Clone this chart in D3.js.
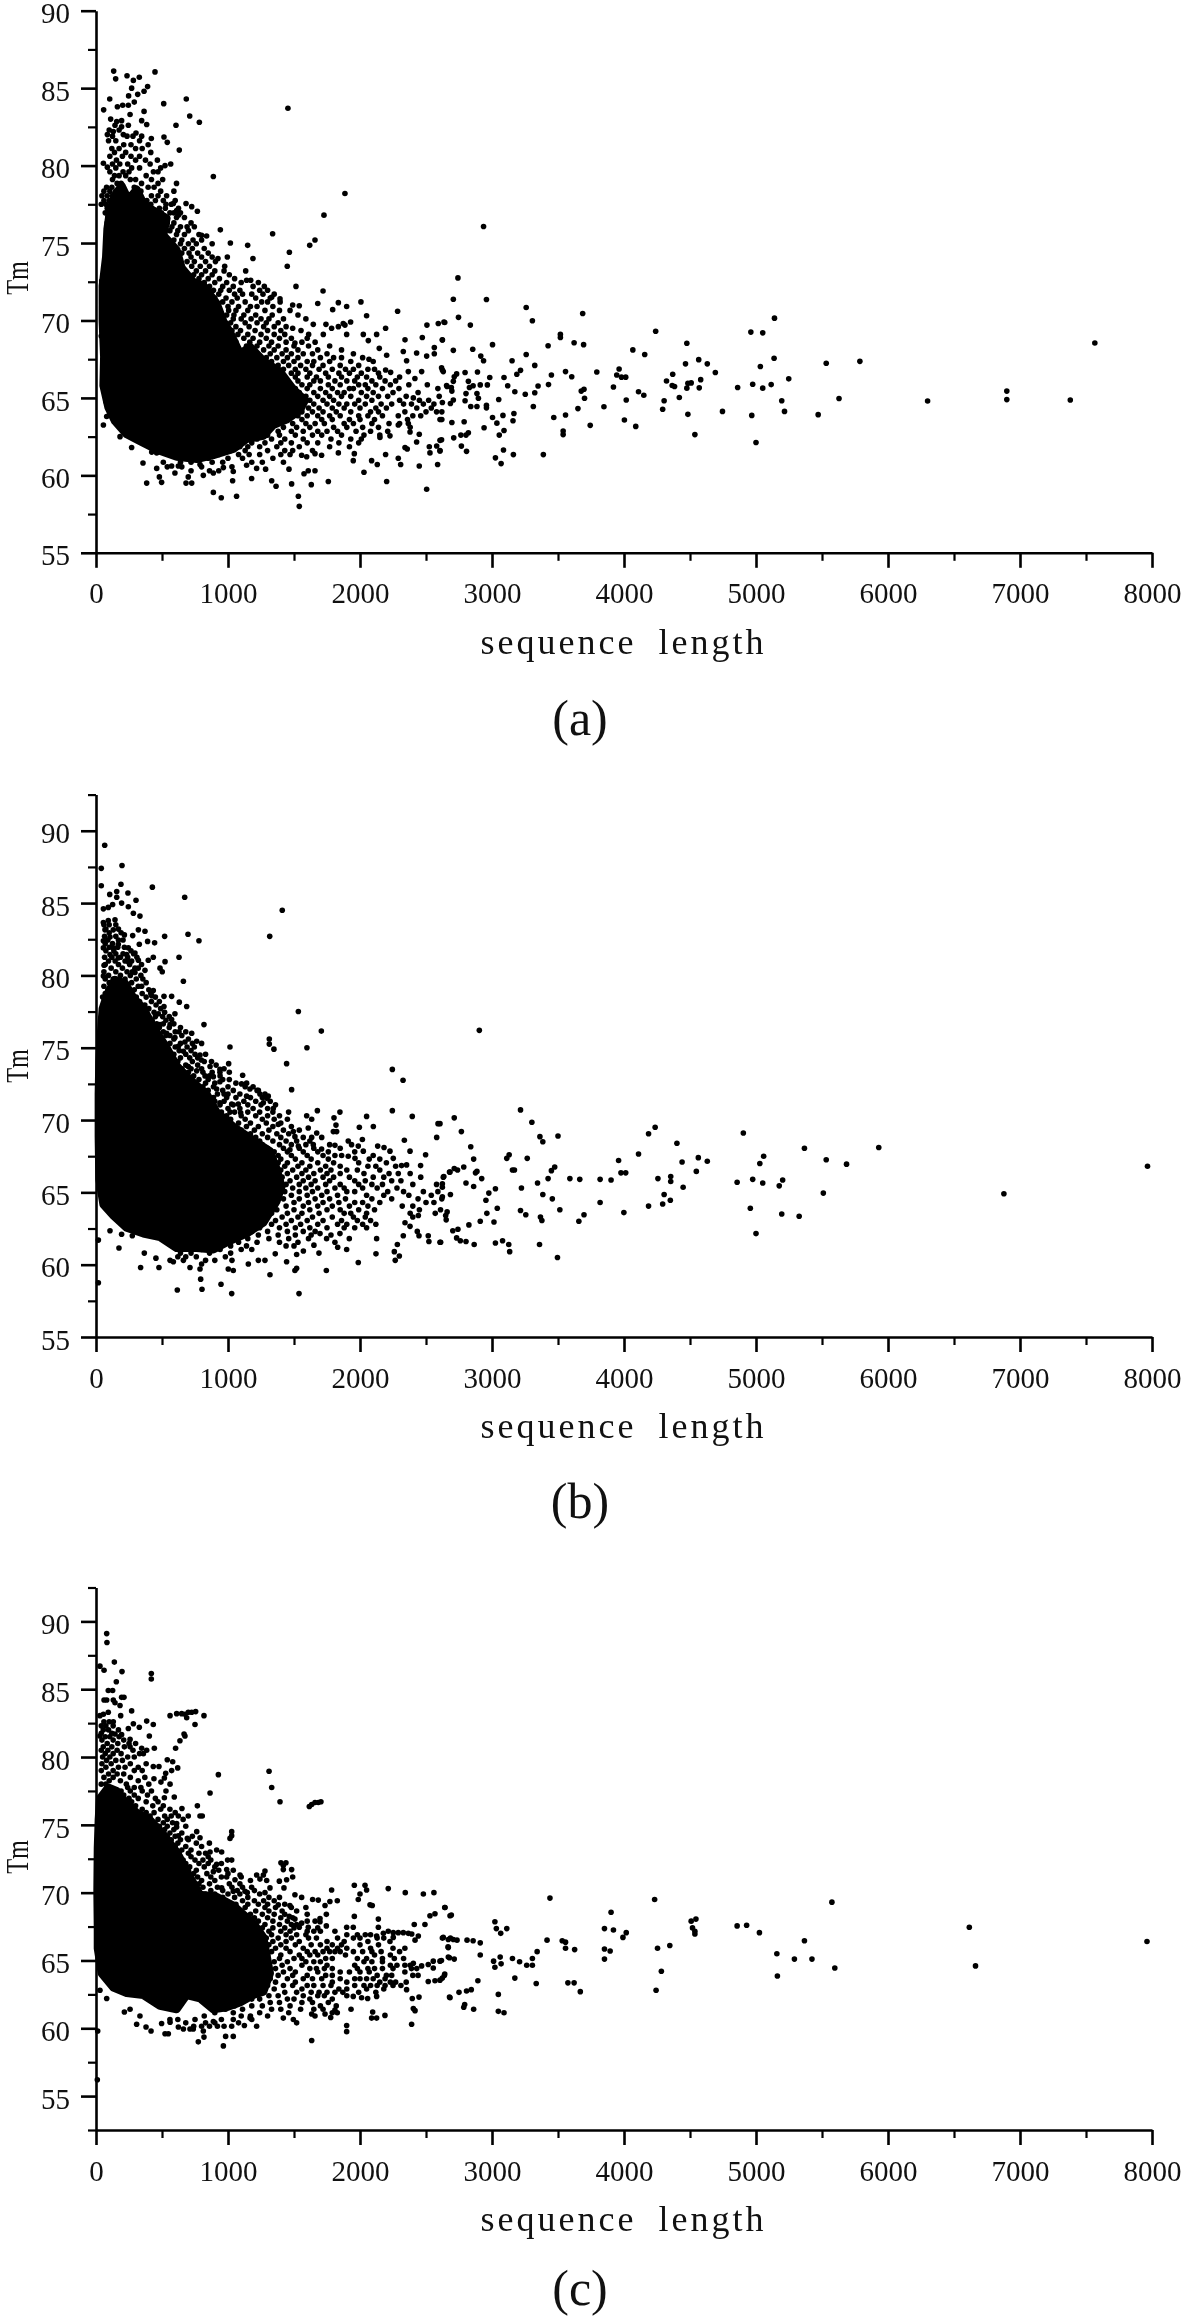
<!DOCTYPE html>
<html><head><meta charset="utf-8">
<script src="https://cdn.jsdelivr.net/npm/d3@7/dist/d3.min.js"></script>
<style>html,body{margin:0;padding:0;background:#fff}svg{display:block;filter:blur(0.4px)}text{font-family:"Liberation Serif",serif;fill:#111}</style>
</head><body><div id="c"></div>
<script>
const lengthMajor=[0,1000,2000,3000,4000,5000,6000,7000,8000];
const lengthMinor=[500,1500,2500,3500,4500,5500,6500,7500];
const tmMajor=[55,60,65,70,75,80,85,90];
const tmMinorA=[57.5,62.5,67.5,72.5,77.5,82.5,87.5];
const tmMinorB=[57.5,62.5,67.5,72.5,77.5,82.5,87.5,92.5];
const tmMinorC=[52.5,57.5,62.5,67.5,72.5,77.5,82.5,87.5,92.5];

// solid, fully overplotted core of each cloud: [length, Tm] outline
const coreA=[[86,75.9],[106,77.1],[144,78.1],[194,78.7],[245,77.8],[308,78.45],[359,77.55],[434,77.1],[535,76.6],[510,75.5],[611,74.55],[649,73.4],[737,72.5],[813,72.25],[914,71.1],[965,69.95],[1015,69.25],[1091,67.85],[1167,68.3],[1268,67.4],[1394,66.7],[1495,65.55],[1583,64.85],[1545,64.2],[1444,63.6],[1343,63.25],[1268,62.55],[1141,62.35],[1040,61.7],[889,61.3],[763,61.05],[611,61.2],[460,61.65],[333,62.2],[232,62.65],[144,63.5],[93,64.4],[56,65.8],[61,67.65],[50,69.95],[50,72.25],[76,74.1]];
const coreB=[[35,75.75],[50,77.7],[86,78.7],[144,79.7],[220,79.45],[283,78.45],[359,77.7],[447,76.25],[535,75],[611,73.75],[712,72.8],[838,71.8],[914,70.55],[1040,69.55],[1192,68.6],[1318,67.85],[1369,66.6],[1406,65.4],[1369,64.4],[1268,62.9],[1141,62.15],[1015,61.65],[889,61.05],[763,61.15],[611,61.15],[485,61.9],[359,62.15],[232,62.55],[131,63.4],[56,64.15],[25,65.9],[20,68.85],[20,71.8],[25,74]];
const coreC=[[20,75.35],[30,76.95],[93,77.75],[157,77.5],[220,76.7],[308,75.9],[409,75.35],[510,74.3],[611,73],[712,71.15],[788,69.85],[914,69.7],[1040,69.05],[1192,67.75],[1268,66.7],[1293,65.35],[1318,64.05],[1268,62.7],[1192,62.45],[1091,61.9],[990,61.55],[889,61.4],[788,62.2],[687,62.45],[611,61.4],[485,61.65],[359,62.45],[232,62.6],[131,63],[43,64.05],[13,65.9],[13,67.45],[10,70.1],[13,73.25]];

// individually readable points: [length, Tm]
const pointsA=[[134,86.1],[149,85.6],[235,85.8],[283,85.5],[328,85.7],[447,86.05],[270,85],[391,85.1],[364,84.8],[316,84.6],[247,84.5],[104,84.3],[684,84.3],[513,84],[1454,83.7],[58,83.6],[162,83.8],[202,83.9],[245,83.9],[290,84.1],[364,83.5],[710,83.2],[783,82.8],[606,82.6],[111,83],[157,82.85],[194,82.9],[258,83.3],[346,82.9],[384,82.65],[144,82.6],[194,82.5],[245,82.6],[131,82.2],[86,82],[207,82],[303,82.1],[346,81.9],[419,81.75],[515,81.85],[540,81.5],[631,81],[56,80.15],[86,79.9],[566,80.1],[523,80],[889,79.3],[1886,78.2],[1727,76.8],[1338,75.6],[1659,75.2],[1619,74.85],[1465,74.4],[1449,73.5],[1515,72.2],[942,75.85],[1018,75],[1149,74.85],[1189,74],[995,74.1],[924,74],[1134,73.2],[1141,72.6],[1172,72.6],[682,77.55],[725,77.35],[768,77.05],[586,77.55],[611,77.1],[624,76.8],[838,75.45],[800,75.5],[43,72.55],[40,69],[56,67.2],
[1720,71.9],[1394,71.4],[1331,71.5],[1680,71.1],[1836,71.15],[2007,71.2],[1490,71],[1540,70.95],[1899,70.9],[1793,70.7],[2285,70.6],[2050,70.3],[1873,69.8],[1929,69.9],[2507,69.7],[2593,69.8],[2636,69.9],[1646,69.75],[1742,69.75],[1785,69.5],[1836,69.6],[1886,69.7],[1490,69.5],[1553,69.35],[2194,69.5],[2126,69.1],[2472,68.9],[2624,68.75],[2341,68.75],[1611,69.1],[1722,69.1],[1899,69.1],[2025,69.1],[2063,68.7],[1507,68.55],[2328,68],[2429,67.9],[2563,67.85],[2563,68.25],[2505,67.7],[2202,67.75],[2146,68.2],[2353,67.4],[2618,66.95],[2467,66.7],[2366,66.7],[2416,66.25],[2194,66.8],[2232,66.65],[2068,67.5],[2631,66.7],[2656,65.8],
[2936,76.07],[2742,72.75],[2707,71.37],[2958,71.35],[3259,70.84],[3306,69.98],[3687,70.45],[2746,70.2],[2642,69.87],[2836,69.7],[4240,69.3],[4961,69.25],[5051,69.2],[5140,70.15],[3518,69.1],[3518,68.9],[2624,68.74],[3622,68.56],[3694,68.44],[3425,68.37],[3004,68.44],[4476,68.53],[7567,68.55],[2707,68.07],[2854,68.14],[4067,68.1],[4157,67.8],[3259,67.8],[2915,67.7],[2936,67.4],[3152,67.4],[4566,67.47],[5137,67.56],[5532,67.24],[5787,67.36],[4631,67.2],[4466,67.2],[3324,67.1],[5033,67.03],[3963,66.87],[3216,66.78],[2624,66.8],[3557,66.7],[3794,66.67],[4692,66.64],[2732,66.55],[2796,66.64],[2890,66.67],[3188,66.53],[3450,66.48],[3945,66.48],[3981,66.34],[4013,66.34],[3604,66.37],[3091,66.32],[2983,66.32],[2714,66.37],[4369,66.53],[4581,66.18],[5248,66.23],[4322,66.09],[2821,66.07],[2707,66.07],[4484,65.95],[4509,65.97],[4975,65.88],[5115,65.86],[4365,65.8],[4383,65.74],[4570,65.65],[4476,65.63],[5051,65.63],[4861,65.67],[3428,65.86],[3349,65.77],[3119,65.79],[3920,65.7],[2965,65.84],[2911,65.84],[2857,65.79],[2829,65.67],[2660,65.74],[2692,65.67],[3697,65.56],[3676,65.44],[4110,65.4],[4150,65.17],[3173,65.4],[3324,65.33],[3252,65.24],[2886,65.28],[2803,65.28],[2696,65.44],[5629,64.96],[3701,64.98],[2897,64.98],[3051,64.9],[4419,65.03],[4017,64.87],[4304,64.82],[5195,64.82],[6300,64.8],[6900,65.44],[6900,64.89],[7381,64.87],[2796,64.82],[2707,64.87],[2685,64.64],[2624,64.7],[2839,64.45],[2886,64.45],[2958,64.52],[2958,64.36],[3313,64.45],[3848,64.43],[3651,64.31],[4293,64.27],[4746,64.13],[5216,64.13],[3166,63.99],[3083,63.87],[3004,63.74],[3557,63.9],[3468,63.74],[4484,63.94],[4968,63.87],[5471,63.92],[3159,63.53],[4003,63.57],[3037,63.37],[2696,63.41],[2789,63.46],[2606,63.6],[3744,63.23],[4089,63.16],[2940,63.07],[3091,62.9],[3539,62.86],[3539,62.63],[2821,62.75],[2803,62.6],[2764,62.6],[3055,62.6],[4537,62.63],[2710,62.42],[2606,62.26],[5000,62.12],[2768,61.89],[2807,61.55],[3087,61.64],[3162,61.34],[3389,61.34],[3026,61.13],[3069,60.76],[2606,61.57],
[56,63.25],[76,64.75],[81,63.8],[101,63.9],[182,62.5],[270,61.8],[384,62],[422,61.5],[460,61.45],[356,60.8],[384,59.5],[460,60.45],[480,59.9],[497,59.55],[510,60.85],[573,60.6],[598,60.15],[624,60.6],[682,59.5],[725,59.5],[699,59.9],[788,60.7],[813,60],[889,60.15],[889,58.9],[949,58.55],[1065,58.65],[1035,59.65],[965,60.5],[1040,60.25],[1141,60.65],[1179,59.8],[1217,60.45],[1285,60.4],[1331,59.65],[1364,59.3],[1482,59.45],[1533,58.65],[1540,58],[1462,60.4],[1576,60.1],[1608,60.3],[1659,60.3],[1631,59.4],[1760,59.6],[2030,60.2],[2202,59.6],[2449,60.6],[2505,59.1],[2588,60.7],[2308,60.7],[2290,61.1],[2131,60.7],[2088,60.95],[2194,61.35],[1949,60.95],[1957,61.4],[1836,61.45],[1709,61.3],[1659,61.4],[1596,61.2],[1558,61.3],[2341,61.8],[2358,61.7],[2530,61.45],[2525,61.85],[2581,61.9],[2606,61.6],[2618,62.3],[2429,62.15],[2449,62.65],[2151,62.45],[2227,62.55],[2290,63.25],[2379,62.8],[2366,63.35],[2404,65]];
// denser fringe of each cloud, estimated row by row: [Tm, lengths]
const rowsA=[[82.3,[100,175]],[81.9,[125,235,280]],[81.6,[95,150,330]],[81.35,[210,265,395]],[81.1,[120,175,300,350]],[80.85,[140,225,415]],[80.6,[105,200,265,330]],[80.35,[155,300,375,465]],[80.1,[125,180,240,410]],[79.85,[150,270,330,490]],[79.6,[105,205,250,435,470]],[79.35,[140,175,225,380]],[79.1,[125,260,300,420,505]],[78.85,[160,190,345,470,610]],[78.6,[80,120,290,395,440]],[78.35,[60,105,150,340,490,590]],[78.05,[45,85,125,420,470,535]],[77.75,[60,100,385,450,510,600]],[77.5,[40,75,415,530,570]],[77.25,[85,480,525,625]],[76.95,[70,495,560,640,590]],[76.65,[90,530,610,670]],[76.3,[85,540,590,720]],[76.05,[575,640,690,745]],[75.8,[560,620,700]],[75.55,[610,670,780]],[75.2,[590,650,735,800]],[74.95,[640,700,760,880]],[74.65,[670,730,820]],[74.35,[650,705,770,850]],[74.1,[720,800,880]],[73.8,[690,745,830,905]],[73.5,[725,790,860,975]],[73.2,[760,830,900,970]],[72.95,[740,800,880,1010]],[72.7,[780,850,935,1050]],[72.45,[820,900,990,1100,1230]],[72.2,[860,960,1040,1190,1275]],[71.95,[890,945,1010,1090,1240,1300]],[71.7,[930,1050,1110,1180,1265,1350]],[71.45,[900,985,1070,1210,1320]],[71.2,[960,1030,1130,1255,1300,1395]],[70.9,[1000,1080,1170,1220,1340]],[70.65,[1005,1060,1150,1280,1390,1470]],[70.35,[990,1045,1120,1210,1335,1530]],[70.1,[1040,1100,1175,1250,1310,1420,1590]],[69.85,[1020,1130,1220,1290,1380]],[69.6,[1060,1160,1270,1350,1440]],[69.35,[1030,1095,1205,1300,1400]],[69.1,[1075,1150,1250,1350,1430]],[68.85,[1120,1190,1290,1390,1480,1600]],[68.6,[1060,1165,1240,1330,1440,1560,1660]],[68.35,[1140,1220,1310,1380,1500,1610,1770]],[68.1,[1190,1270,1350,1440,1530,1680,1860]],[67.85,[1220,1320,1410,1480,1570,1640,1750,1950]],[67.6,[1290,1370,1450,1530,1700,1800,1860,2020]],[67.35,[1330,1420,1500,1600,1650,1770,1930,2100]],[67.1,[1380,1460,1550,1640,1720,1850,1990]],[66.85,[1420,1510,1590,1690,1790,1890,1950,2060,2110]],[66.6,[1480,1530,1620,1740,1840,1920,2010,2140]],[66.35,[1510,1600,1670,1760,1860,1980,2050,2150,2300]],[66.1,[1530,1650,1700,1810,1900,1960,2090,2190,2270]],[65.85,[1560,1620,1760,1850,1990,2040,2120,2230,2370,2510]],[65.6,[1510,1600,1700,1790,1920,1950,2060,2170,2295,2590]],[65.35,[1540,1650,1740,1830,1880,2010,2100,2250,2440]],[65.1,[1590,1680,1770,1860,1930,2050,2140,2210,2350,2600]],[64.85,[1530,1620,1720,1800,1990,2090,2300,2450,2520]],[64.6,[1570,1650,1750,1840,1900,1960,2040,2160,2240,2330,2390,2480,2560]],[64.35,[1510,1610,1690,1790,1880,2000,2120,2200,2430,2540]],[64.1,[1480,1560,1640,1720,1820,1930,2080,2140,2340,2500,2580,2620]],[63.85,[1530,1600,1680,1770,1850,1990,2060,2170,2290,2400,2460]],[63.6,[1450,1560,1710,1790,1920,2000,2110,2360,2620]],[63.35,[1490,1590,1660,1730,1880,1950,2090,2220,2300]],[63.1,[1420,1520,1620,1800,1900,2020,2140,2380]],[62.85,[1380,1480,1570,1680,1750,1830,1970,2080,2210]],[62.6,[1300,1390,1510,1640,1710,1860,2030,2150]],[62.35,[1220,1330,1430,1570,1780,1930,2010]],[62.1,[1180,1280,1400,1480,1600,1680,1840,1990]],[61.85,[1090,1150,1240,1370,1540,1770,1920]],[61.6,[1020,1130,1300,1430,1490,1640]],[61.35,[930,1080,1160,1240,1400,1470]],[61.1,[850,1000,1110,1340]],[60.85,[640,720,880,960,1180,1260,1420]],[60.55,[540,650,800,1030]],[60.3,[720,860,930]]];

const pointsB=[[66,89],[40,87.4],[197,87.6],[40,86.2],[189,86.3],[427,86.1],[157,85.8],[242,85.7],[104,85.6],[303,85.2],[672,85.4],[1411,84.5],[1316,82.7],[697,82.85],[780,82.4],[520,82.7],[157,85.4],[194,85],[126,84.9],[245,84.75],[56,84.6],[93,84.7],[283,84.3],[333,84.1],[56,83.65],[93,83.8],[144,83.85],[68,83.15],[131,83.15],[215,82.8],[278,82.75],[321,83.15],[371,83.05],[391,82.35],[328,82.15],[444,82.25],[56,82.4],[106,82.65],[56,81.9],[131,81.9],[169,82.15],[245,81.9],[295,81.55],[232,81.45],[396,81.05],[434,81.25],[321,81.05],[629,81.25],[523,80.95],[371,80.35],[485,80.5],[502,80.25],[61,80.7],[106,81.45],[169,81.2],[245,80.95],[295,80.2],[56,79.95],[662,79.6],[346,79.25],[434,78.95],[422,78.6],[515,78.55],[573,78.55],[631,78.15],[687,77.85],[515,77.85],[598,77.35],[573,76.95],[472,77.35],[818,76.6],[561,76.6],[485,76.6],[1533,77.5],[1707,76.15],[1313,75.6],[1313,75.25],[1348,74.9],[1598,75],[1015,75.05],[1444,73.9],[1005,73.9],[1482,72.1],[725,76],[629,76.1],[535,76],[598,75.7],[763,75.45],[674,75.4],[624,75.1],[788,74.5],[662,74.75],[798,74.15],[699,73.7],[864,73.7],[939,73.5],[939,73.3],[763,73.4],[826,73.05],[1111,73.1],[889,73],[1103,72.5],[1141,72.55],[1166,72.15],[1230,72.05],[1242,71.8],[1141,71.65],[970,71.8],[1305,71.65],[1293,71.5],[1268,71.2],[1343,70.8],[939,72.65],[914,72.15],[838,72],[939,71.2],[1028,71.1],[1078,71.1],[1015,70.55],[1096,70.5],[1459,70.55],[1677,70.65],[1848,70.55],[1596,70.3],[1634,70.05],[1803,70.15],[2050,70.25],[2245,70.65],[2396,70.25],[2245,73.5],[2326,72.75],[2591,69.75],[2581,68.8],[1995,69.5],[2101,69.55],[1818,69.65],[1608,69.45],[1381,69.7],[1495,69.2],[1507,68.85],[1672,69.1],[1634,68.8],[1798,69.2],[1823,69.2],[2018,68.65],[2336,68.6],[2379,67.85],[1911,68.55],[1936,68.3],[1987,68.2],[2134,68.2],[2182,68.1],[2227,67.85],[2025,67.85],[2497,67.6],[2459,66.85],[2315,66.85],[2353,66.9],[2252,67.35],[1861,67.55],[1911,67.5],[1962,67.35],[1810,68.25],[1646,68.3],[1709,68],[1533,68.2],[1469,67.95],[2631,66.05],[2682,66.4],
[18,61.7],[18,58.75],[174,61.15],[194,62.1],[106,62.35],[275,62],[366,60.8],[338,59.8],[454,60.45],[477,59.8],[616,58.25],[586,60.2],[561,60.3],[662,60.3],[712,59.8],[788,59.7],[800,60.05],[793,59],[803,58.3],[947,58.65],[1028,58],[1040,59.6],[1002,59.7],[1154,60.05],[1230,60.3],[1280,60.3],[1318,59.3],[1358,60.75],[1444,60.2],[1507,59.6],[1520,59.75],[1538,58],[1520,60.7],[1571,60.95],[1689,60.8],[1651,61.35],[1745,59.6],[1987,60.15],[2121,60.75],[2126,61.8],[2260,60.9],[2267,60.3],[2298,60.6],[1899,61.05],[1831,61.2],[1810,61.55],[1919,61.8],[1848,62.15],[1747,61.8],[1697,62.15],[2283,61.4],[2328,62],[2447,62],[2517,62],[2611,61.55],[2522,61.6],[2341,62.9],[2379,62.65],[2434,62.3],[2442,63.4],
[2904,76.2],[3216,70.7],[2714,70.15],[3302,69.85],[2606,69.75],[2768,69.2],[3363,68.85],[3500,68.9],[3385,68.5],[4236,69.5],[4186,69.05],[4904,69.1],[4401,68.4],[2839,68.15],[5367,68.05],[5930,68.1],[4110,67.65],[3130,67.6],[3112,67.35],[3267,67.35],[2861,67.3],[3959,67.2],[4440,67.1],[4563,67.4],[4631,67.15],[5058,67.5],[5029,67],[5532,67.25],[5686,66.95],[7966,66.8],[3475,66.75],[3450,66.5],[3155,66.55],[3170,66.55],[2786,66.75],[2714,66.65],[2739,66.55],[2678,66.4],[2875,66.35],[2886,66.45],[3977,66.35],[4013,66.35],[4548,66.45],[2635,66.1],[2922,65.95],[3425,65.95],[3590,65.95],[3665,65.9],[3819,65.9],[3902,65.85],[4257,65.95],[4354,66.1],[4354,65.75],[4975,65.9],[5202,65.85],[5176,65.45],[5051,65.65],[4857,65.7],[3345,65.65],[2803,65.65],[2624,65.6],[2624,65.35],[2861,65.4],[3223,65.3],[3026,65.25],[4448,65.35],[2976,64.95],[5510,64.95],[6878,64.9],[3385,64.85],[4304,64.85],[2685,64.85],[2624,64.7],[2954,64.45],[3457,64.55],[4351,64.45],[3819,64.3],[4293,64.2],[4186,64.05],[3040,63.9],[3216,63.75],[3514,63.8],[3256,63.45],[2961,63.55],[3999,63.6],[3697,63.45],[4957,63.9],[5195,63.5],[5327,63.35],[2660,63.65],[2649,63.4],[3367,63.3],[3378,63.05],[3658,63],[2911,63],[3015,62.95],[2653,63.1],[2825,62.75],[2742,62.45],[2703,62.35],[5000,62.15],[2732,61.85],[2760,61.65],[2803,61.6],[2865,61.4],[2606,61.55],[3026,61.5],[3080,61.65],[3127,61.4],[3134,60.9],[3360,61.4],[3496,60.5]];
const rowsB=[[83.5,[60,100,150]],[83.2,[75,170]],[82.95,[100,190]],[82.7,[65,150]],[82.45,[90,205,170]],[82.2,[70,125]],[81.95,[100,165,215]],[81.7,[75,135,265]],[81.5,[150,205,285]],[81.25,[65,120,185,240,310]],[81,[95,145,220,270]],[80.75,[70,170,255,345]],[80.5,[115,200,295,320]],[80.25,[60,150,235,275]],[80,[95,185,260,340]],[79.75,[70,130,220,305,355]],[79.5,[100,270,380]],[79.25,[60,150,320]],[79,[90,240,290,400]],[78.75,[70,350,415]],[78.5,[50,305,380,450]],[78.2,[90,330,420,480]],[77.95,[65,370,455]],[77.7,[400,490]],[77.45,[370,440,520]],[77.15,[450,505,555]],[76.9,[425,530]],[76.65,[460,510,590]],[76.4,[480,555,640]],[76.1,[460,510,600,680]],[75.85,[530,560,650]],[75.6,[490,590,700]],[75.3,[560,640,730,800]],[75.05,[600,690,745]],[74.8,[540,630,720]],[74.55,[590,680,750,830]],[74.3,[640,710,770]],[74.05,[620,730,820,875]],[73.8,[680,770,910]],[73.55,[650,720,800,970]],[73.3,[700,810,880,1010]],[73.05,[740,860,940]],[72.8,[780,850,960,1010]],[72.55,[760,830,900,1060]],[72.3,[810,890,1000,1130,1190]],[72.05,[850,960,1040,1220]],[71.8,[840,920,1000,1090,1280]],[71.55,[890,990,1060,1170,1260]],[71.3,[900,970,1120,1210,1320]],[71.05,[940,1040,1150,1250,1360]],[70.8,[1000,1090,1190,1300]],[70.55,[950,1050,1150,1240,1340]],[70.3,[990,1100,1210,1300,1390]],[70.05,[1020,1130,1260,1350,1450]],[69.8,[1080,1170,1290,1400]],[69.55,[1050,1140,1230,1340,1480]],[69.3,[1100,1200,1310,1420,1540]],[69.05,[1170,1260,1370,1460]],[68.8,[1210,1300,1400,1570,1710]],[68.55,[1240,1340,1440,1520,1620]],[68.3,[1260,1390,1480,1590,1770]],[68.05,[1300,1420,1540,1650,1850]],[67.8,[1350,1450,1570,1680,1760,1960]],[67.55,[1380,1480,1600,1720,1810,2100]],[67.3,[1400,1510,1630,1760,2070,2150]],[67.05,[1380,1450,1560,1680,1800,1990,2200]],[66.8,[1430,1530,1620,1740,1850,2060,2120,2270]],[66.55,[1400,1490,1590,1700,1780,1900,1980,2150]],[66.3,[1450,1560,1650,1750,1850,2030,2220,2290,2380]],[66.05,[1410,1520,1610,1720,1800,1920,2100,2180,2460]],[65.8,[1470,1570,1660,1770,1960,2040,2240,2310]],[65.55,[1440,1540,1630,1740,1850,1990,2090,2170,2400,2580]],[65.3,[1490,1590,1680,1810,1880,2020,2130,2280]],[65.05,[1430,1540,1640,1750,1900,1960,2210,2330,2480,2590]],[64.8,[1480,1600,1710,1830,2050,2180,2370,2540]],[64.55,[1420,1540,1660,1770,1890,2090,2240,2440,2620]],[64.3,[1500,1610,1720,1840,1960,2020,2150,2500,2560]],[64.05,[1440,1570,1680,1790,1920,2060,2320,2400]],[63.8,[1370,1500,1620,1750,1850,1990,2110,2450,2610]],[63.55,[1330,1450,1560,1690,1880,1930,2050,2380,2570]],[63.3,[1290,1410,1530,1640,1790,1950,2040,2400]],[63.05,[1250,1360,1480,1600,1720,1860,1980,2080]],[62.8,[1200,1330,1440,1550,1680,1830,1900,2020,2120]],[62.55,[1240,1390,1510,1620,1750,1880,1960,2050]],[62.3,[1180,1300,1450,1570,1660]],[62.05,[1100,1230,1380,1510,1630,1780]],[61.8,[1050,1150,1310,1460,1610]],[61.55,[980,1080,1220,1390,1530]],[61.3,[900,1020,1140,1440,1500]],[61.05,[800,940,1100,1180]],[60.8,[640,720,860,1020]],[60.55,[620,680,760,980]],[60.3,[830,900,1030]]];

const pointsC=[[81,89.1],[83,88.45],[139,87],[30,86.7],[61,86.4],[197,86.3],[419,86.15],[419,85.75],[154,85.55],[93,84.9],[126,84.9],[61,84.2],[81,84.2],[131,84.2],[144,84],[194,84.4],[212,84.4],[182,83.8],[270,83.4],[561,83.05],[611,83.2],[649,83.2],[674,83.15],[699,83.3],[725,83.3],[755,83.35],[818,83.05],[687,82.9],[750,82.4],[674,81.55],[667,81.7],[636,81.2],[603,80.65],[434,82.4],[384,82.65],[328,82.2],[283,82.45],[245,82.1],[404,81.55],[442,80.65],[30,83.05],[56,83.15],[93,83.3],[131,82.6],[187,83.05],[30,81.55],[144,81.7],[194,81.65],[258,81.3],[258,80.75],[346,80.65],[384,80.5],[359,80.25],[434,79.3],[477,79.3],[540,79.8],[581,79.65],[619,79.2],[573,79],[528,78.8],[518,78.45],[439,78.4],[492,78.15],[561,78],[530,77.5],[927,78.7],[864,77.35],[518,77],[593,77.05],[1311,78.95],[1331,77.75],[1394,76.7],[1616,76.35],[1634,76.5],[1659,76.65],[1684,76.65],[1704,76.7],[768,76.4],[651,76.2],[699,75.65],[788,75.65],[805,75.65],[624,75.65],[611,75.1],[611,74.85],[763,74.5],[1028,74.5],[1028,74.2],[1015,74],[788,74.05],[624,74.2],[692,74],[859,73.65],[914,73.15],[952,73],[864,73],[997,72.4],[1028,72.4],[1401,72.2],[1439,72.2],[1419,72],[1419,71.7],[1482,71.7],[1490,71.15],[1444,70.95],[1389,70.85],[1424,70.35],[1280,71.6],[1268,71.3],[1217,71.3],[1242,71],[1293,70.9],[1318,70.35],[1280,70],[990,71.7],[914,72.1],[889,71.55],[990,71.15],[1091,71.3],[1053,70.95],[1040,70.1],[1179,70.4],[1129,70.1],[1146,70],[952,70.35],[1507,69.85],[1558,69.65],[1641,69.5],[1684,69.45],[1785,70.2],[1828,69.4],[1772,69.35],[1735,69.05],[1957,70.55],[2038,70.55],[2050,70.2],[2000,69.9],[1987,69.5],[2076,69.1],[2093,69.05],[2214,70.3],[2343,70],[2480,69.9],[2560,70],[2644,68.9],[2568,68.45],[2530,68.3],[2682,68.3],[2492,67.65],[2411,67.65],[1957,68.25],[2139,68.05],[1745,68.4],[1697,68.1],[1697,67.85],[1745,67.55],[1558,67.75],[1608,67.45],[1464,68.25],[1381,69.1],[1469,69.05],[1507,68.05],[1540,67.45],[1899,67.45],[1949,67.45],[2139,67.45],[2126,66.8],[2177,67],[2214,67.15],[2252,67.05],[2290,67.05],[2328,67.05],[2366,67],[2392,66.95],[2442,66.8],[2417,66.5],[2252,66.7],[2227,66.4],[2631,66.7],[2669,66.55],[2669,65.95],[2669,65.25],[2682,62.25],[2404,64.8],[2467,64.6],[2517,64.7],[2555,64.95],[2606,64.95],[2555,64.45],[2517,63.45],[2568,63.5],[2606,63.55],[2639,63.9],
[215,61.2],[258,61.4],[81,62.2],[30,62.8],[333,60.9],[308,60.3],[379,60.1],[417,59.8],[497,60.35],[523,59.6],[548,59.6],[561,60.45],[624,60.1],[662,59.95],[712,59.95],[737,59.95],[813,59.8],[775,59],[818,59.35],[889,60.5],[965,58.7],[982,59.4],[1040,59.4],[1028,60.15],[970,60.15],[1124,60.2],[1217,60.15],[1167,60.75],[13,59.8],[10,56.2],[1634,59.1],[1634,61.05],[1659,60.9],[1778,60.8],[1899,60.2],[1899,59.75],[1932,61.4],[1828,61.15],[1810,61.35],[1735,61.05],[2096,61.2],[2088,60.75],[2126,60.75],[2189,60.95],[2391,60.3],[2404,61.45],[2417,61.3],[2396,62.2],[2447,62.3],[2353,62.85],[2012,62.25],[2058,62.2],[2126,62.35],[1949,62.35],[1419,60.75],[1495,60.65],[1520,60.4],
[3439,69.6],[4232,69.5],[5575,69.3],[2642,68.9],[2692,68.35],[3902,68.55],[4545,68.05],[4509,67.9],[3022,67.85],[6616,67.45],[4857,67.55],[4929,67.6],[4519,67.4],[3033,67.35],[3112,67.35],[3852,67.35],[3920,67.25],[5026,67.05],[4537,67.15],[4537,66.95],[4017,67.05],[3992,66.7],[3066,67],[2624,66.65],[2685,66.65],[2707,66.55],[2735,66.5],[2811,66.5],[2857,66.45],[2911,66.3],[3417,66.5],[3532,66.45],[3557,66.35],[5367,66.45],[7962,66.4],[4347,66.1],[2667,66],[3557,65.9],[3626,65.8],[4254,65.9],[3852,65.85],[3895,65.7],[3342,65.65],[5158,65.5],[2911,65.4],[3062,65.25],[2678,65.2],[2714,65.1],[3155,65.15],[3852,65.1],[5291,65.1],[5424,65.1],[3306,65.15],[3209,64.9],[3012,64.95],[2617,65],[3263,64.65],[3306,64.65],[3069,64.75],[3022,64.5],[6663,64.6],[5597,64.45],[4283,64.2],[5162,63.85],[2642,64],[2624,63.7],[3173,63.7],[2893,63.5],[3335,63.3],[3575,63.35],[3622,63.35],[3669,62.7],[4243,62.8],[2843,62.85],[2807,62.75],[2750,62.65],[3048,62.5],[2678,62.3],[2793,61.75],[2786,61.55],[2861,61.4],[3048,61.25],[3091,61.15]];
const rowsC=[[82.6,[60,100]],[82.3,[75,130,40]],[82,[55,95,170]],[81.75,[40,120]],[81.5,[70,105,175]],[81.25,[45,130,210]],[81,[85,165,250,300]],[80.75,[55,120,215]],[80.5,[40,90,160,280]],[80.25,[70,130,190,330]],[80,[50,105,240,290]],[79.75,[80,150,200]],[79.5,[45,115,260,380]],[79.25,[75,170,220,320]],[79,[40,130,290,350]],[78.75,[95,160,210]],[78.5,[60,130,260,370]],[78.25,[100,185,320]],[78,[40,75,230,400]],[77.75,[240,290,340]],[77.5,[190,260,350,420]],[77.2,[210,290,390]],[76.95,[250,320,450]],[76.7,[270,380,470]],[76.4,[300,430,510]],[76.15,[350,490,560]],[75.9,[380,440,600]],[75.65,[410,520,570]],[75.4,[470,540,660]],[75.15,[440,510,580]],[74.9,[480,540,680]],[74.65,[520,590]],[74.4,[500,560,650]],[74.15,[540,600,730]],[73.9,[570,640,700]],[73.65,[550,620,760]],[73.4,[600,680,800]],[73.15,[590,650,720]],[72.9,[630,700,780,830]],[72.65,[640,720,850]],[72.4,[660,750,810,870]],[72.15,[680,780,850,950]],[71.9,[710,820,900]],[71.65,[700,760,930,1040]],[71.4,[740,840,1000]],[71.15,[770,870,950,1100]],[70.9,[730,800,900,1170]],[70.65,[780,860,1010,1090]],[70.4,[810,920,1030,1110]],[70.15,[870,960,1070,1200]],[69.9,[830,900,1000,1090,1240]],[69.65,[960,1050,1150,1310,1390]],[69.4,[1110,1200,1270,1350]],[69.15,[1060,1150,1230,1300,1430]],[68.9,[1130,1280,1360,1480,1590]],[68.65,[1100,1210,1310,1410,1520]],[68.4,[1170,1260,1350,1430,1600]],[68.15,[1200,1300,1400,1490]],[67.9,[1230,1340,1450,1600,1660]],[67.65,[1280,1390,1480,1520]],[67.4,[1260,1340,1430,1500,1680]],[67.15,[1310,1400,1470,1600,1650,1700,1810]],[66.9,[1330,1440,1520,1590,1900,1980,2040,2080]],[66.65,[1290,1380,1480,1610,1670,1830,1950,2000,2130,2180]],[66.4,[1340,1440,1540,1750,1880,2060]],[66.15,[1310,1400,1510,1630,1700,1790,1860,2000,2140]],[65.9,[1360,1440,1570,1750,1830,1900,2080,2250,2340]],[65.65,[1330,1470,1600,1660,1720,1770,1810,1850,1950,2020,2090,2160,2300]],[65.4,[1300,1400,1540,1620,1680,1890,2110,2230]],[65.15,[1390,1500,1560,1740,1790,1980,2050,2170,2260,2330]],[64.9,[1350,1450,1590,1650,1700,2030,2090,2170]],[64.65,[1410,1560,1750,1960,2230,2280,2340,2380]],[64.4,[1360,1470,1620,1670,1730,1790,1980,2060,2110,2170,2250,2390,2430]],[64.15,[1300,1420,1510,1680,1850,1920,2000,2070,2340]],[63.9,[1380,1490,1600,1740,1790,2130,2200,2240,2400,2440]],[63.65,[1320,1450,1570,1640,1710,1850,1960,2000,2050,2100,2190]],[63.4,[1360,1510,1900,1790,2150,2230,2270,2350]],[63.15,[1300,1420,1490,1600,1650,1720,1780,1960,2030,2080,2130,2190,2250,2310]],[62.9,[1350,1560,1840,1900,2050,2180]],[62.65,[1250,1430,1520,1630,1690,1750,1810,1870,1990,2120]],[62.4,[1310,1380,1570,1680,1730,1900]],[62.15,[1180,1240,1450,1500,1620,1790]],[61.9,[1100,1320,1390,1560,1640,1760]],[61.65,[1050,1180,1260,1470,1700,1820]],[61.4,[980,1110,1330,1400,1550,1650,1720]],[61.15,[900,1040,1240,1460,1790]],[60.9,[820,1100,1170,1300]],[60.65,[560,620,750,950,1040,1180]],[60.4,[680,830,900,1080]],[60.15,[740,800,860,920]]];

const panels=[
 {letter:"(a)",core:coreA,points:pointsA,rows:rowsA,domain:[55,90],range:[552.8,10.7],minor:tmMinorA,xAxisY:552.8,labelY:278,letterY:735},
 {letter:"(b)",core:coreB,points:pointsB,rows:rowsB,domain:[55,92.5],range:[1337,794.6],minor:tmMinorB,xAxisY:1337,labelY:1066,letterY:1518},
 {letter:"(c)",core:coreC,points:pointsC,rows:rowsC,domain:[52.5,92.5],range:[2130,1587.5],minor:tmMinorC,xAxisY:2130,labelY:1857,letterY:2305}
];
const svg=d3.select("#c").append("svg").attr("width",1181).attr("height",2322);
const x=d3.scaleLinear().domain([0,8000]).range([96,1152]);
const ink="#000";
function styleAxis(g,w){
  g.selectAll("path").attr("stroke",ink).attr("stroke-width",w).attr("fill","none");
  g.selectAll("line").attr("stroke",ink).attr("stroke-width",w);
}
panels.forEach(p=>{
  const y=d3.scaleLinear().domain(p.domain).range(p.range);
  const g=svg.append("g");
  const xa=g.append("g").attr("transform",`translate(0,${p.xAxisY})`)
    .call(d3.axisBottom(x).tickValues(lengthMajor).tickFormat(d3.format("d")).tickSize(15).tickPadding(15).tickSizeOuter(0));
  xa.selectAll("text").attr("font-size",29).attr("fill","#111").attr("font-family","Liberation Serif");
  styleAxis(xa,2.6);
  const xm=g.append("g").attr("transform",`translate(0,${p.xAxisY})`)
    .call(d3.axisBottom(x).tickValues(lengthMinor).tickFormat("").tickSize(8).tickSizeOuter(0));
  styleAxis(xm,2.2); xm.select("path").remove();
  const ya=g.append("g").attr("transform","translate(96,0)")
    .call(d3.axisLeft(y).tickValues(tmMajor).tickFormat(d3.format("d")).tickSize(15).tickPadding(11).tickSizeOuter(0));
  ya.selectAll("text").attr("font-size",29).attr("dy","0.42em").attr("fill","#111").attr("font-family","Liberation Serif");
  styleAxis(ya,2.6);
  const ym=g.append("g").attr("transform","translate(96,0)")
    .call(d3.axisLeft(y).tickValues(p.minor).tickFormat("").tickSize(8).tickSizeOuter(0));
  styleAxis(ym,2.2); ym.select("path").remove();

  g.append("path").datum(p.core)
    .attr("d",d3.line().x(d=>x(d[0])).y(d=>y(d[1])).curve(d3.curveLinearClosed))
    .attr("fill",ink).attr("stroke",ink).attr("stroke-width",8).attr("stroke-linejoin","round");
  const all=p.points.concat(p.rows.flatMap(r=>r[1].map(l=>[l,r[0]])));
  g.append("g").selectAll("circle").data(all).join("circle")
    .attr("cx",d=>x(d[0])).attr("cy",d=>y(d[1])).attr("r",2.8).attr("fill",ink);

  g.append("text").attr("x",623.5).attr("y",p.xAxisY+101).attr("text-anchor","middle")
    .attr("font-size",36).attr("letter-spacing",3).attr("word-spacing",10).text("sequence length");
  g.append("text").attr("transform",`translate(28,${p.labelY}) rotate(-90) scale(0.9,1.15)`).attr("text-anchor","middle")
    .attr("font-size",27).text("Tm");
  g.append("text").attr("x",580).attr("y",p.letterY).attr("text-anchor","middle")
    .attr("font-size",50).text(p.letter);
});
</script></body></html>
